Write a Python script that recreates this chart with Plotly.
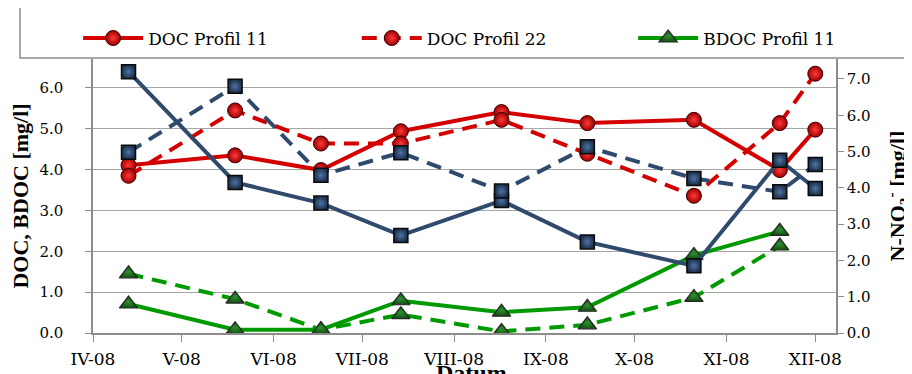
import plotly.graph_objects as go

# ---- data ----
dates = ['2008-04-13', '2008-05-19', '2008-06-17', '2008-07-14', '2008-08-17',
         '2008-09-15', '2008-10-21', '2008-11-19', '2008-12-01']

doc_p11 = [4.11, 4.35, 3.99, 4.94, 5.41, 5.14, 5.22, 3.99, 4.98]
doc_p22 = [3.85, 5.45, 4.64, 4.64, 5.22, 4.39, 3.36, 5.14, 6.35]
bdoc_p11 = [0.71, 0.08, 0.08, 0.79, 0.51, 0.63, 1.90, 2.49, None]
bdoc_p22 = [1.45, 0.83, 0.08, 0.45, 0.04, 0.20, 0.87, 2.13, None]
no3_p11 = [7.20, 4.15, 3.58, 2.69, 3.65, 2.51, 1.85, 4.76, 3.98]
no3_p22 = [4.98, 6.80, 4.35, 4.97, 3.91, 5.13, 4.26, 3.89, 4.64]

tick_dates = ['2008-04-01', '2008-05-01', '2008-06-01', '2008-07-01', '2008-08-01',
              '2008-09-01', '2008-10-01', '2008-11-01', '2008-12-01']
tick_text = ['IV-08', 'V-08', 'VI-08', 'VII-08', 'VIII-08', 'IX-08', 'X-08', 'XI-08', 'XII-08']

# ---- styles ----
RED = '#d40000'
BLUE = '#2f4a6c'
GREEN = '#009a00'
DASH = '15px,9px'
SERIF = 'DejaVu Serif'
TITLE_FONT = dict(family='Liberation Serif', size=22, color='black', weight='bold')
LEG_FONT = dict(family=SERIF, size=17, color='black')

red_marker = dict(symbol='circle', size=15, color='#a00000',
                  gradient=dict(type='radial', color='#ff3a3a'),
                  line=dict(color='#3a0000', width=1))
blue_marker = dict(symbol='square', size=14, color='#1c2f4a',
                   gradient=dict(type='radial', color='#4d73a6'),
                   line=dict(color='#0b0b0b', width=1.5))
green_marker = dict(symbol='triangle-up', size=16, color='#145214',
                    gradient=dict(type='radial', color='#2f8f2f'),
                    line=dict(color='#262626', width=1.2))

fig = go.Figure()

fig.add_trace(go.Scatter(x=dates, y=doc_p11, name='DOC Profil 11', mode='lines+markers',
                         line=dict(color=RED, width=4), marker=red_marker, legend='legend'))
fig.add_trace(go.Scatter(x=dates, y=doc_p22, name='DOC Profil 22', mode='lines+markers',
                         line=dict(color=RED, width=4, dash=DASH), marker=red_marker,
                         legend='legend2'))
fig.add_trace(go.Scatter(x=dates, y=bdoc_p11, name='BDOC Profil 11', mode='lines+markers',
                         line=dict(color=GREEN, width=4), marker=green_marker,
                         legend='legend3'))
fig.add_trace(go.Scatter(x=dates, y=bdoc_p22, name='BDOC Profil 22', mode='lines+markers',
                         line=dict(color=GREEN, width=4, dash=DASH), marker=green_marker,
                         showlegend=False))
fig.add_trace(go.Scatter(x=dates, y=no3_p11, name='N-NO3 Profil 11', mode='lines+markers',
                         line=dict(color=BLUE, width=4), marker=blue_marker,
                         yaxis='y2', showlegend=False))
fig.add_trace(go.Scatter(x=dates, y=no3_p22, name='N-NO3 Profil 22', mode='lines+markers',
                         line=dict(color=BLUE, width=4, dash=DASH), marker=blue_marker,
                         yaxis='y2', showlegend=False))

AXC = '#8c8c8c'


def leg(xpos):
    return dict(orientation='h', x=xpos, xanchor='left', y=1.075, yanchor='middle',
                font=LEG_FONT, bgcolor='rgba(0,0,0,0)', borderwidth=0, itemwidth=60)


fig.update_layout(
    template='none',
    width=912, height=374,
    margin=dict(l=85, r=84, t=42, b=49, pad=0),
    paper_bgcolor='white', plot_bgcolor='white',
    font=dict(family=SERIF, color='black'),
    showlegend=True,
    legend=leg(-0.02),
    legend2=leg(0.355),
    legend3=leg(0.727),
    xaxis=dict(type='date', range=['2008-04-01', '2008-12-08'],
               tickmode='array', tickvals=tick_dates, ticktext=tick_text,
               ticks='outside', ticklen=7, tickcolor=AXC, tickwidth=1,
               showline=True, linecolor=AXC, linewidth=1.5,
               showgrid=False, zeroline=False,
               tickfont=dict(family=SERIF, size=17, color='black'),
               ticklabelstandoff=3,
               automargin=False),
    yaxis=dict(range=[0, 6.71], tick0=0, dtick=1, tickformat='.1f',
               ticks='outside', ticklen=6, tickcolor=AXC,
               showline=True, linecolor=AXC, linewidth=1.5,
               showgrid=True, gridcolor='#a6a6a6', gridwidth=1, zeroline=False,
               tickfont=dict(family=SERIF, size=15, color='black'),
               ticklabelstandoff=19,
               title=dict(text='DOC, BDOC [mg/l]', font=TITLE_FONT, standoff=7),
               automargin=False),
    yaxis2=dict(overlaying='y', side='right', range=[0, 7.55], tick0=0, dtick=1,
                tickformat='.1f', ticks='outside', ticklen=6, tickcolor=AXC,
                showline=True, linecolor=AXC, linewidth=1.5,
                showgrid=False, zeroline=False,
                tickfont=dict(family=SERIF, size=15, color='black'),
                ticklabelstandoff=0,
                title=dict(text='N-NO<sub>3</sub><sup>-</sup> [mg/l]', font=TITLE_FONT, standoff=20),
                automargin=False),
    annotations=[dict(text='Datum', xref='paper', yref='paper', x=0.51, y=-0.09,
                      xanchor='center', yanchor='top', showarrow=False,
                      font=dict(family='Liberation Serif', size=24, color='black', weight='bold'))],
    shapes=[dict(type='rect', xref='paper', yref='paper',
                 x0=-0.0983, x1=1.105, y0=1.0035, y1=1.2,
                 line=dict(color='#8c8c8c', width=1.5), fillcolor='rgba(0,0,0,0)',
                 layer='below')],
)

fig.write_html('out.html')
